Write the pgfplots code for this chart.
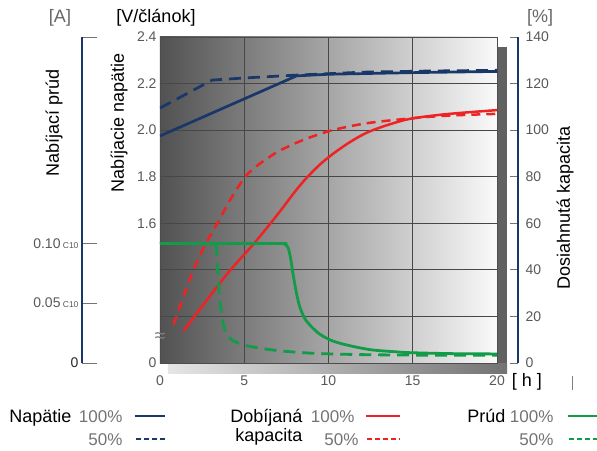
\documentclass[border=0pt]{standalone}
\usepackage{fontspec}
\setmainfont{Liberation Sans}
\usepackage{pgfplots}
\pgfplotsset{compat=1.18}

\definecolor{navy}{RGB}{25,55,105}
\definecolor{cred}{RGB}{237,35,36}
\definecolor{cgreen}{RGB}{18,155,72}
\definecolor{tickgray}{RGB}{88,88,88}

\newcommand{\lbl}{\fontsize{18}{20}\selectfont}
\newcommand{\tck}{\fontsize{14}{16}\selectfont}
\newcommand{\pct}{\fontsize{17}{19}\selectfont}
\newcommand{\sm}{\fontsize{8.5}{10}\selectfont}

\begin{document}
\begin{tikzpicture}
% shadow behind the plot area
\fill[black!62] (337pt,-10pt) rectangle (347pt,316pt);
\shade[left color=black!10, right color=black!55] (8pt,-10pt) rectangle (347pt,0pt);

% main axis: y in percent of capacity (voltage v -> 100v-100)
\begin{axis}[
  at={(0,0)}, anchor=south west,
  scale only axis, width=337pt, height=326pt,
  xmin=0, xmax=20, ymin=0, ymax=140,
  xtick={0,5,...,20},
  ytick={0,20,...,140},
  yticklabels={0,,,1.6,1.8,2.0,2.2,2.4},
  grid=major,
  major grid style={black!72, line width=0.8pt},
  tick style={draw=none},
  axis line style={black!70, line width=0.8pt},
  axis background/.style={left color=black!68, right color=black!2},
  /pgf/number format/assume math mode=true,
  xticklabel style={font=\tck, text=tickgray, yshift=-9pt},
  yticklabel style={font=\tck, text=tickgray},
]
% voltage 100%
\addplot[navy, line width=2.7pt] coordinates {
  (0,97.5) (8.1,123.3) (10,124.0) (15,124.7) (20,125.2)};
% voltage 50%
\addplot[navy, line width=2.7pt, dash pattern=on 12pt off 7pt] coordinates {
  (0,109.5) (3.1,121.5) (5,122.4) (8,123.6) (12,124.9) (16,125.4) (20,125.7)};
% recharged capacity 100%
\addplot[cred, line width=2.5pt, smooth] coordinates {
  (1.4,13.8) (3.9,37.5) (5.6,51.5) (7.0,64) (8.0,73.5) (8.7,79.5) (9.5,85.3)
  (10.3,90) (11.3,95) (12.3,99) (13.5,102.2) (14.8,104.8) (16.5,106.5)
  (18,107.5) (20,108.6)};
% recharged capacity 50%
\addplot[cred, line width=2.5pt, smooth, dash pattern=on 9pt off 6pt] coordinates {
  (0.8,16.5) (1.4,28.5) (1.98,40) (2.7,51) (3.4,60) (4.2,70.5) (5.0,79.5)
  (5.4,82.5) (5.9,85.5) (6.5,88.5) (7.1,91.2) (8.3,95.2) (9.3,97.9)
  (10.4,100.3) (12.3,103) (14.8,105) (17,106.2) (20,107)};
% current 100%
\addplot[cgreen, line width=2.8pt, smooth] coordinates {
  (0,51.3) (7.0,51.3) (7.4,51.0) (7.6,49.5) (7.75,45) (7.9,38) (8.1,30)
  (8.3,24) (8.6,19) (9.0,15.5) (9.5,12.3) (10.2,9.6) (11.1,7.7) (12.5,5.7)
  (14,4.8) (15,4.4) (17.5,4.0) (20,3.9)};
% current 50%
\addplot[cgreen, line width=2.8pt, smooth, dash pattern=on 12pt off 7pt] coordinates {
  (0,51.3) (3.1,51.3) (3.28,50.6) (3.36,48) (3.42,40) (3.5,31) (3.6,24)
  (3.72,18) (3.86,14.2) (4.05,11.5) (4.25,9.9) (4.7,8.4) (5.15,7.4)
  (6.2,6.1) (7.3,5.1) (9.3,4.1) (12,3.6) (15,3.4) (20,3.3)};
\end{axis}

% right axis: reached capacity [%]
\begin{axis}[
  at={(0,0)}, anchor=south west,
  scale only axis, width=358pt, height=326pt,
  xmin=0, xmax=1, ymin=0, ymax=140,
  hide x axis, axis y line*=right,
  ytick={0,20,...,140},
  tick align=inside, major tick length=8pt,
  y axis line style={-, navy, line width=1.8pt},
  ytick style={black!55, line width=0.8pt},
  /pgf/number format/assume math mode=true,
  yticklabel style={font=\tck, text=tickgray, xshift=4pt},
]
\end{axis}

% left axis: charging current
\begin{axis}[
  at={(-78pt,0)}, anchor=south west,
  scale only axis, width=60pt, height=326pt,
  xmin=0, xmax=1, ymin=0, ymax=140,
  hide x axis, axis y line*=left,
  ytick={0,25.7,51.4,140},
  yticklabels={{\textcolor{black!85}{0}\hspace{4pt}},{0.05\,{\sm C10}},{0.10\,{\sm C10}},{}},
  tick align=inside, major tick length=15pt,
  y axis line style={-, navy, line width=1.8pt},
  ytick style={black!55, line width=0.8pt},
  yticklabel style={font=\tck, text=tickgray},
]
\end{axis}

% texts
\node[font=\lbl, text=black!60] at (-100pt,345pt) {[A]};
\node[font=\lbl] at (-4pt,345pt) {[V/článok]};
\node[font=\lbl, text=black!60] at (380pt,345pt) {[\%]};
\node[font=\lbl, rotate=90] at (-106pt,240pt) {Nabíjací prúd};
\node[font=\lbl, rotate=90] at (-41pt,240pt) {Nabíjacie napätie};
\node[font=\lbl, rotate=90] at (405pt,155pt) {Dosiahnutá kapacita};
\node[font=\fontsize{20}{22}\selectfont, text=black!50] at (0pt,25pt) {≈};
\node[font=\lbl] at (367pt,-19pt) {[ h ]};
\draw[black!50, line width=0.8pt] (412pt,-13pt) -- (412pt,-27pt);

% legend
\node[font=\lbl, anchor=base east] at (-85pt,-59.5pt) {Napätie};
\node[font=\pct, text=black!55, anchor=base east] at (-34pt,-59.5pt) {100\%};
\draw[navy, line width=2.2pt] (-25pt,-53pt) -- (5pt,-53pt);
\node[font=\pct, text=black!55, anchor=base east] at (-34pt,-82.5pt) {50\%};
\draw[navy, line width=2.2pt, dash pattern=on 5pt off 3pt] (-24pt,-76pt) -- (5pt,-76pt);

\node[font=\lbl, anchor=base east] at (146pt,-59.5pt) {Dobíjaná};
\node[font=\lbl, anchor=base east] at (146pt,-78.5pt) {kapacita};
\node[font=\pct, text=black!55, anchor=base east] at (198pt,-59.5pt) {100\%};
\draw[cred, line width=2.2pt] (206pt,-53pt) -- (240pt,-53pt);
\node[font=\pct, text=black!55, anchor=base east] at (202pt,-82.5pt) {50\%};
\draw[cred, line width=2.2pt, dash pattern=on 5pt off 3pt] (207pt,-76pt) -- (240pt,-76pt);

\node[font=\lbl, anchor=base east] at (349pt,-59.5pt) {Prúd};
\node[font=\pct, text=black!55, anchor=base east] at (397pt,-59.5pt) {100\%};
\draw[cgreen, line width=2.2pt] (408pt,-53pt) -- (440pt,-53pt);
\node[font=\pct, text=black!55, anchor=base east] at (397pt,-82.5pt) {50\%};
\draw[cgreen, line width=2.2pt, dash pattern=on 5pt off 3pt] (409pt,-76pt) -- (440pt,-76pt);

\pgfresetboundingbox
\path[use as bounding box] (-160pt,-87pt) rectangle (437pt,363pt);
\end{tikzpicture}
\end{document}
